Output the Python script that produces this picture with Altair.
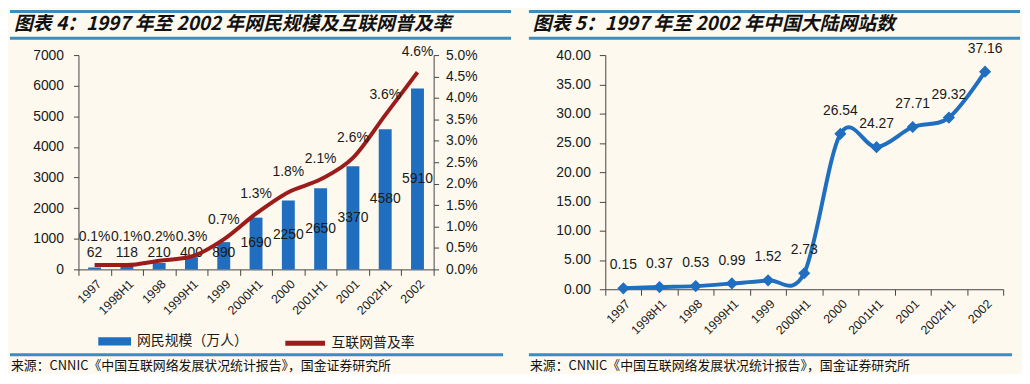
import altair as alt
import pandas as pd

# ---------------- data ----------------
periods = ["1997", "1998H1", "1998", "1999H1", "1999", "2000H1",
           "2000", "2001H1", "2001", "2002H1", "2002"]
netizens = [62, 118, 210, 400, 890, 1690, 2250, 2650, 3370, 4580, 5910]
penetration = [0.1, 0.1, 0.2, 0.3, 0.7, 1.3, 1.8, 2.1, 2.6, 3.6, 4.6]
websites = [0.15, 0.37, 0.53, 0.99, 1.52, 2.73, 26.54, 24.27, 27.71, 29.32, 37.16]

y_left_ticks = [0, 1000, 2000, 3000, 4000, 5000, 6000, 7000]
y_pct_ticks = [0.0, 0.005, 0.01, 0.015, 0.02, 0.025, 0.03, 0.035, 0.04, 0.045, 0.05]
y_site_ticks = [0, 5, 10, 15, 20, 25, 30, 35, 40]

bar_series = "网民规模（万人）"
line_series = "互联网普及率"
left_title = "图表 4：1997 年至 2002 年网民规模及互联网普及率"
right_title = "图表 5：1997 年至 2002 年中国大陆网站数"
source_text = "来源：CNNIC《中国互联网络发展状况统计报告》，国金证券研究所"

# ---------------- style ----------------
BG = "#FDF9EE"
BLUE = "#1F6EBF"
RED = "#9C1B1B"
RULE = "#3A8DBE"
TXT = "#1A1A1A"
AX = "#444444"
FONT = "Liberation Sans, Arial, Noto Sans CJK SC, sans-serif"
CJK = "Noto Sans CJK SC, sans-serif"

LW, LH = 358, 216
RW, RH = 401, 236

left_df = pd.DataFrame({
    "period": periods,
    "users": netizens,
    "pct": [p / 100 for p in penetration],
    "s1": bar_series,
    "s2": line_series,
})
right_df = pd.DataFrame({"period": periods, "sites": websites})


def xenc():
    return alt.X(
        "period:N", sort=periods,
        scale=alt.Scale(domain=periods, paddingInner=0, paddingOuter=0),
        axis=alt.Axis(title=None, labelAngle=-45, tickBand="extent",
                      labelFontSize=12.5, labelColor=TXT, labelFont=FONT,
                      domainColor=AX, tickColor=AX, tickSize=6,
                      labelPadding=2, grid=False),
    )


def users_axis():
    return alt.Axis(title=None, values=y_left_ticks, format="d", grid=False,
                    labelFontSize=14, labelColor=TXT, labelFont=FONT,
                    domainColor=AX, tickColor=AX, tickSize=5, labelPadding=10)


def pct_axis():
    return alt.Axis(title=None, orient="right", values=y_pct_ticks, format=".1%",
                    grid=False, labelFontSize=14, labelColor=TXT, labelFont=FONT,
                    domainColor=AX, tickColor=AX, tickSize=5, labelPadding=7)


def decorations(title, x_left, x_right):
    one = pd.DataFrame({"t": [title]})
    top = alt.Chart(one).mark_rule(color=RULE, strokeWidth=3).encode(
        x=alt.value(x_left), x2=alt.value(x_right), y=alt.value(-44))
    under = alt.Chart(one).mark_rule(color=RULE, strokeWidth=3).encode(
        x=alt.value(x_left), x2=alt.value(x_right), y=alt.value(-17))
    bottom = alt.Chart(one).mark_rule(color=RULE, strokeWidth=3).encode(
        x=alt.value(x_left), x2=alt.value(x_right - 8), y=alt.value(302))
    ttl = alt.Chart(one).mark_text(
        align="left", baseline="middle", fontSize=19, fontWeight="bold",
        fontStyle="italic", font=CJK, color="#111111").encode(
        x=alt.value(x_left + 4), y=alt.value(-31), text="t:N")
    src = alt.Chart(one).mark_text(
        align="left", baseline="middle", fontSize=13, font=CJK,
        color="#111111").encode(
        x=alt.value(x_left + 1), y=alt.value(313), text=alt.value(source_text))
    return [top, under, bottom, ttl, src]


# ---------------- left chart ----------------
base_l = alt.Chart(left_df)

bars = base_l.mark_bar(size=13).encode(
    x=xenc(),
    y=alt.Y("users:Q", scale=alt.Scale(domain=[0, 7000]), axis=users_axis()),
    color=alt.Color("s1:N", scale=alt.Scale(domain=[bar_series], range=[BLUE]),
                    legend=alt.Legend(title=None, orient="none", legendX=20, legendY=272,
                                      symbolType="M-1,-0.25H1V0.25H-1Z", symbolSize=1089,
                                      symbolStrokeWidth=0, labelFontSize=14, labelFont=CJK,
                                      labelColor=TXT, padding=0, labelOffset=6)),
)
bar_lbl = base_l.transform_calculate(ly="max(datum.users / 2, 520)").mark_text(
    fontSize=14, color=TXT, font=FONT).encode(
    x=xenc(),
    y=alt.Y("ly:Q", scale=alt.Scale(domain=[0, 7000]), axis=users_axis()),
    text=alt.Text("users:Q"),
)

line = base_l.mark_line(interpolate="monotone", strokeWidth=4).encode(
    x=xenc(),
    y=alt.Y("pct:Q", scale=alt.Scale(domain=[0, 0.05]), axis=pct_axis()),
    stroke=alt.Stroke("s2:N", scale=alt.Scale(domain=[line_series], range=[RED]),
                      legend=alt.Legend(title=None, orient="none", legendX=206, legendY=268,
                                        symbolType="stroke", symbolSize=1600,
                                        symbolStrokeWidth=5, labelFontSize=14, labelFont=CJK,
                                        labelColor=TXT, padding=0, labelOffset=4)),
)
pct_lbl = base_l.transform_calculate(py="max(datum.pct, 0.003)").mark_text(
    fontSize=14, color=TXT, font=FONT, dy=-20).encode(
    x=xenc(),
    y=alt.Y("py:Q", scale=alt.Scale(domain=[0, 0.05]), axis=pct_axis()),
    text=alt.Text("pct:Q", format=".1%"),
)

left = alt.layer(
    alt.layer(bars, bar_lbl),
    alt.layer(line, pct_lbl),
    *decorations(left_title, -69, 436),
).resolve_scale(y="independent").properties(width=LW, height=LH)

# ---------------- right chart ----------------
base_r = alt.Chart(right_df)
yr = alt.Y("sites:Q", scale=alt.Scale(domain=[0, 40]),
           axis=alt.Axis(title=None, values=y_site_ticks, format=".2f", grid=False,
                         labelFontSize=14, labelColor=TXT, labelFont=FONT,
                         domainColor=AX, tickColor=AX, tickSize=6, labelPadding=9))
r_line = base_r.mark_line(interpolate="cardinal", strokeWidth=4, color=BLUE).encode(x=xenc(), y=yr)
r_pts = base_r.mark_point(shape="diamond", filled=True, size=150, color=BLUE, opacity=1).encode(x=xenc(), y=yr)
r_lbl = base_r.mark_text(fontSize=14, color=TXT, font=FONT, dy=-23).encode(
    x=xenc(), y=yr, text=alt.Text("sites:Q", format=".2f"))

right = alt.layer(r_line, r_pts, r_lbl, *decorations(right_title, -77, 418)).properties(width=RW, height=RH)

chart = alt.hconcat(left, right, spacing=14).resolve_legend(
    color="independent", stroke="independent").resolve_scale(
    color="independent", stroke="independent").properties(
    background=BG, padding=0).configure_view(stroke=None)

chart.save("out.html", embed_options={"renderer": "svg", "actions": False})
